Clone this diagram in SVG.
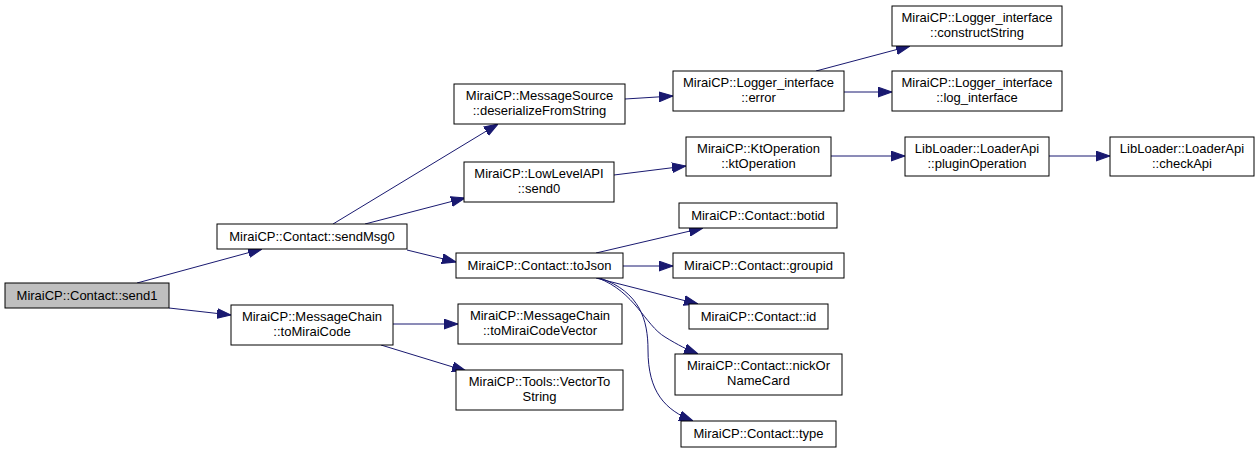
<svg xmlns="http://www.w3.org/2000/svg" width="1260" height="453" viewBox="0 0 1260 453">
<style>
.n rect{fill:#fff;stroke:#000;stroke-width:1}
.n text{font-family:"Liberation Sans",Arial,sans-serif;font-size:13px;text-anchor:middle;fill:#000}
.e path{fill:none;stroke:#191970;stroke-width:1;marker-end:url(#a)}
</style>
<defs>
<marker id="a" markerUnits="userSpaceOnUse" markerWidth="14" markerHeight="11" refX="13" refY="4.5" orient="auto" viewBox="0 0 13 9"><path d="M0,0L13,4.5L0,9z" fill="#191970" stroke="#191970" stroke-width="1"/></marker>
</defs>
<rect width="1260" height="453" fill="#fff"/>
<g id="edges" class="e">
<path d="M137,283L262,249"/>
<path d="M169,308L231,315"/>
<path d="M333,224L498,124"/>
<path d="M365,224L465,198"/>
<path d="M407,250L456,262"/>
<path d="M625,99L673,96"/>
<path d="M816,71L910,46"/>
<path d="M844,92L892,92"/>
<path d="M614,175L686,166"/>
<path d="M831,156L905,156"/>
<path d="M1049,156L1110,156"/>
<path d="M596,253L703,228"/>
<path d="M623,266L673,266"/>
<path d="M596,278L698,304"/>
<path d="M598,278C635,292 645,325 665,337C678,345 688,350 698,354"/>
<path d="M600,278C640,292 648,320 648,350C648,392 665,410 693,421"/>
<path d="M393,324L458,324"/>
<path d="M381,345L466,371"/>
</g>
<g id="send1" class="n"><rect x="5" y="283" width="164" height="25" style="fill:#bfbfbf"/><text x="87" y="300">MiraiCP::Contact::send1</text></g>
<g id="sendMsg0" class="n"><rect x="217" y="224" width="190" height="25"/><text x="312" y="241">MiraiCP::Contact::sendMsg0</text></g>
<g id="toMiraiCode" class="n"><rect x="231" y="305" width="162" height="40"/><text x="312" y="321">MiraiCP::MessageChain</text><text x="312" y="336">::toMiraiCode</text></g>
<g id="deserializeFromString" class="n"><rect x="454" y="84" width="171" height="40"/><text x="539.5" y="100">MiraiCP::MessageSource</text><text x="539.5" y="115">::deserializeFromString</text></g>
<g id="send0" class="n"><rect x="464" y="162" width="150" height="40"/><text x="539" y="178">MiraiCP::LowLevelAPI</text><text x="539" y="193">::send0</text></g>
<g id="toJson" class="n"><rect x="456" y="253" width="167" height="25"/><text x="539.5" y="270">MiraiCP::Contact::toJson</text></g>
<g id="toMiraiCodeVector" class="n"><rect x="458" y="304" width="164" height="40"/><text x="540" y="320">MiraiCP::MessageChain</text><text x="540" y="335">::toMiraiCodeVector</text></g>
<g id="VectorToString" class="n"><rect x="456" y="370" width="167" height="40"/><text x="539.5" y="386">MiraiCP::Tools::VectorTo</text><text x="539.5" y="401">String</text></g>
<g id="error" class="n"><rect x="673" y="71" width="171" height="40"/><text x="758.5" y="87">MiraiCP::Logger_interface</text><text x="758.5" y="102">::error</text></g>
<g id="ktOperation" class="n"><rect x="686" y="137" width="145" height="39"/><text x="758.5" y="152.5">MiraiCP::KtOperation</text><text x="758.5" y="167.5">::ktOperation</text></g>
<g id="botid" class="n"><rect x="679" y="203" width="158" height="25"/><text x="758" y="220">MiraiCP::Contact::botid</text></g>
<g id="groupid" class="n"><rect x="673" y="253" width="171" height="25"/><text x="758.5" y="270">MiraiCP::Contact::groupid</text></g>
<g id="id" class="n"><rect x="689" y="304" width="139" height="25"/><text x="758.5" y="321">MiraiCP::Contact::id</text></g>
<g id="nickOrNameCard" class="n"><rect x="675" y="354" width="167" height="41"/><text x="758.5" y="370">MiraiCP::Contact::nickOr</text><text x="758.5" y="385">NameCard</text></g>
<g id="type" class="n"><rect x="681" y="421" width="155" height="26"/><text x="758.5" y="438">MiraiCP::Contact::type</text></g>
<g id="constructString" class="n"><rect x="892" y="6" width="170" height="40"/><text x="977" y="22">MiraiCP::Logger_interface</text><text x="977" y="37">::constructString</text></g>
<g id="log_interface" class="n"><rect x="892" y="71" width="170" height="40"/><text x="977" y="87">MiraiCP::Logger_interface</text><text x="977" y="102">::log_interface</text></g>
<g id="pluginOperation" class="n"><rect x="905" y="137" width="144" height="39"/><text x="977" y="152.5">LibLoader::LoaderApi</text><text x="977" y="167.5">::pluginOperation</text></g>
<g id="checkApi" class="n"><rect x="1110" y="137" width="144" height="39"/><text x="1182" y="152.5">LibLoader::LoaderApi</text><text x="1182" y="167.5">::checkApi</text></g>
</svg>
